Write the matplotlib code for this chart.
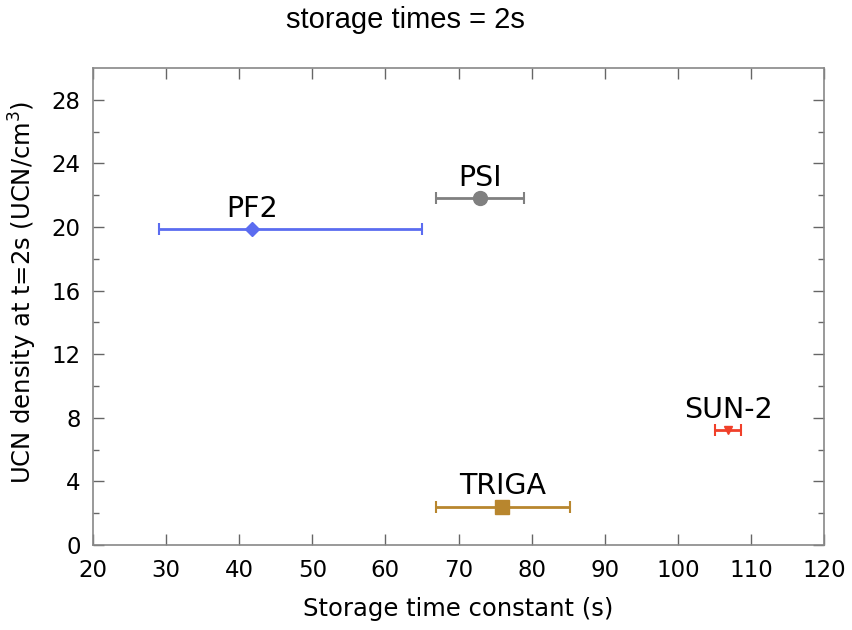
import matplotlib.pyplot as plt

# data
names = ["PF2", "PSI", "TRIGA", "SUN-2"]
tau = [41.7, 72.9, 76.0, 106.9]
tau_lo = [29.0, 66.9, 66.9, 105.1]
tau_hi = [65.0, 78.9, 85.2, 108.7]
density = [19.85, 21.8, 2.41, 7.23]
colors = ["#5b6cf0", "#808080", "#b8862e", "#f0402a"]
markers = ["D", "o", "s", "v"]
msizes = [7, 10, 10, 6]

fig = plt.figure(figsize=(8.52, 6.3), dpi=100)
ax = fig.add_axes([93 / 852, 85 / 630, 731 / 852, 477 / 630])

for i in range(len(names)):
    xerr = [[tau[i] - tau_lo[i]], [tau_hi[i] - tau[i]]]
    ax.errorbar([tau[i]], [density[i]], xerr=xerr, fmt=markers[i], color=colors[i],
                ms=msizes[i], elinewidth=2, capsize=4.5, capthick=1.5)
    ax.annotate(names[i], (tau[i], density[i]), xytext=(0, 9), textcoords="offset points",
                ha="center", va="baseline", fontsize=20.5, family="DejaVu Sans")

ax.set_xlim(20, 120)
ax.set_ylim(0, 30)
ax.set_xticks(range(20, 121, 10))
ax.set_yticks(range(0, 29, 4))
ax.set_yticks(range(2, 29, 4), minor=True)
ax.tick_params(which="both", direction="in", top=True, right=True, color="#666666",
               labelsize=16.5)
ax.tick_params(which="major", length=8, width=1, pad=10)
ax.tick_params(axis="y", which="major", pad=9)
ax.tick_params(which="minor", length=4.5, width=1)
for s in ax.spines.values():
    s.set_color("#888888")
    s.set_linewidth(1.2)

ax.set_xlabel("Storage time constant (s)", fontsize=17.5, labelpad=11)
ax.set_ylabel("UCN density at t=2s (UCN/cm$^3$)", fontsize=17.5)
ax.yaxis.set_label_coords(-0.074, 0.53)
fig.text(405 / 852, 1 - 20 / 630, "storage times = 2s", ha="center", va="center",
         fontsize=21, family="Liberation Sans")

plt.savefig("out.png")
